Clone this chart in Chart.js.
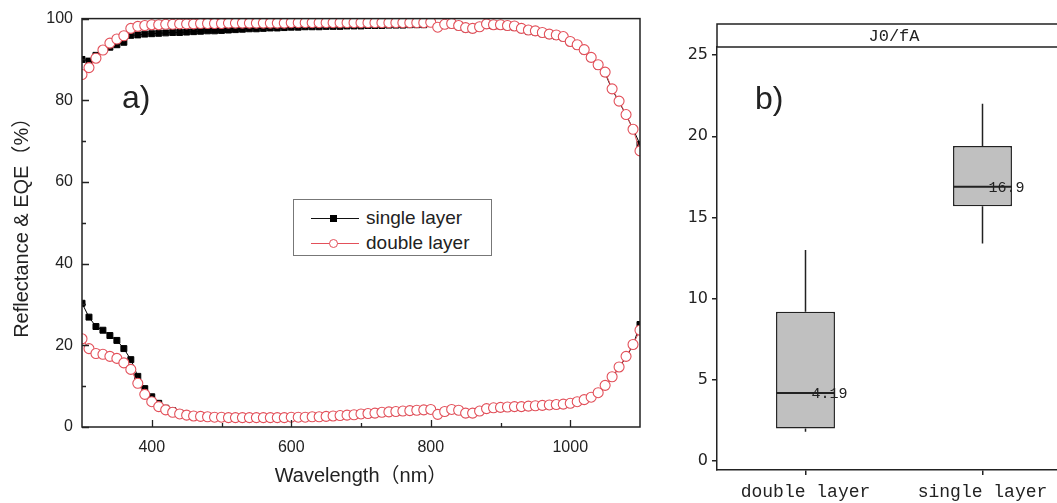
<!DOCTYPE html>
<html lang="en">

<head>
  <meta charset="UTF-8" />
  <title>Reflectance & EQE / J0</title>
  <script src="https://cdn.jsdelivr.net/npm/chart.js"></script>
  <style>
    body {
      margin: 0;
      width: 1057px;
      height: 503px;
      overflow: hidden;
      position: relative;
      background: #fff;
      font-family: 'Liberation Sans', Arial, sans-serif;
      color: #222;
    }

    .box {
      position: absolute;
      top: 0;
      height: 503px;
    }

    .tag {
      position: absolute;
      font-size: 32px;
      line-height: 38px;
    }

    #legend {
      position: absolute;
      left: 293px;
      top: 199px;
      width: 197px;
      height: 55px;
      border: 1px solid #777;
      background: #fff;
    }

    #legend .ln {
      position: absolute;
      left: 17px;
      width: 48px;
      height: 1px;
    }

    #legend .mk {
      position: absolute;
      box-sizing: border-box;
    }

    #legend .tx {
      position: absolute;
      left: 72px;
      font-size: 19px;
      line-height: 22px;
    }
  </style>
</head>

<body>
  <div class="box" style="left:0;width:680px"><canvas id="chartA"></canvas></div>
  <div class="box" style="left:680px;width:400px"><canvas id="chartB"></canvas></div>

  <div class="tag" style="left:122px;top:78px">a)</div>
  <div class="tag" style="left:755px;top:79px">b)</div>

  <div id="legend">
    <div class="ln" style="top:18px;background:#111"></div>
    <div class="mk" style="left:36px;top:15px;width:7px;height:7px;background:#000"></div>
    <div class="tx" style="top:7px">single layer</div>
    <div class="ln" style="top:43px;background:#e3505a"></div>
    <div class="mk" style="left:35px;top:39px;width:9px;height:9px;border:1px solid #e3505a;border-radius:50%;background:#fff"></div>
    <div class="tx" style="top:32px">double layer</div>
  </div>

  <script>
    // ---- a) reflectance & EQE ----
    const wavelength = [
      300, 310, 320, 330, 340, 350, 360, 370, 380, 390,
      400, 410, 420, 430, 440, 450, 460, 470, 480, 490,
      500, 510, 520, 530, 540, 550, 560, 570, 580, 590,
      600, 610, 620, 630, 640, 650, 660, 670, 680, 690,
      700, 710, 720, 730, 740, 750, 760, 770, 780, 790,
      800, 810, 820, 830, 840, 850, 860, 870, 880, 890,
      900, 910, 920, 930, 940, 950, 960, 970, 980, 990,
      1000, 1010, 1020, 1030, 1040, 1050, 1060, 1070, 1080, 1090,
      1100
    ]

    const singleUpper = [
      90.0, 89.6, 91.0, 92.4, 93.0, 93.6, 94.2, 95.9, 96.0, 96.2,
      96.3, 96.4, 96.5, 96.6, 96.6, 96.7, 96.8, 96.9, 97.0, 97.0,
      97.1, 97.2, 97.3, 97.4, 97.5, 97.5, 97.6, 97.7, 97.7, 97.8,
      97.9, 97.9, 98.0, 98.0, 98.0, 98.1, 98.1, 98.1, 98.2, 98.2,
      98.2, 98.3, 98.3, 98.3, 98.4, 98.4, 98.4, 98.5, 98.5, 98.5,
      99.4, 98.0, 98.4, 98.5, 98.0, 97.5, 97.3, 97.8, 98.3, 98.2,
      98.2, 98.0, 97.9, 97.3, 96.9, 96.7, 96.3, 95.9, 95.7, 95.3,
      94.1, 93.3, 92.1, 90.2, 88.4, 86.6, 82.6, 79.6, 76.4, 73.0,
      69.2
    ]

    const singleLower = [
      30.3, 26.9, 24.6, 23.7, 22.4, 21.2, 19.2, 16.5, 12.4, 9.4,
      7.4, 5.8, 4.6, 4.0, 3.4, 3.0, 2.8, 2.6, 2.5, 2.4,
      2.3, 2.2, 2.2, 2.2, 2.2, 2.2, 2.2, 2.2, 2.2, 2.2,
      2.3, 2.3, 2.3, 2.4, 2.4, 2.5, 2.6, 2.7, 2.8, 2.9,
      3.0, 3.1, 3.2, 3.4, 3.5, 3.6, 3.7, 3.8, 3.9, 4.0,
      4.1, 3.0, 3.6, 4.1, 3.9, 3.2, 3.2, 3.7, 4.3, 4.5,
      4.6, 4.7, 4.8, 4.8, 4.9, 5.0, 5.1, 5.2, 5.3, 5.4,
      5.6, 6.0, 6.5, 7.1, 8.2, 10.0, 12.1, 14.5, 17.1, 20.0,
      25.1
    ]

    const doubleUpper = [
      86.3, 88.0, 90.3, 92.3, 94.0, 95.0, 95.8, 97.6, 98.1, 98.3,
      98.5, 98.5, 98.6, 98.6, 98.7, 98.7, 98.7, 98.8, 98.8, 98.8,
      98.8, 98.9, 98.9, 98.9, 98.9, 98.9, 98.9, 98.9, 98.9, 98.9,
      99.0, 99.0, 99.0, 99.0, 99.0, 99.0, 99.0, 99.0, 99.0, 99.0,
      99.0, 99.0, 99.0, 99.0, 99.0, 99.0, 99.0, 99.0, 99.0, 99.0,
      99.1, 97.9, 98.6, 98.8, 98.3, 97.8, 97.6, 98.0, 98.7, 98.5,
      98.5, 98.3, 98.2, 97.6, 97.2, 97.0, 96.6, 96.2, 96.0, 95.6,
      94.4, 93.6, 92.4, 90.5, 88.7, 86.9, 82.8, 79.8, 76.5, 72.9,
      67.6
    ]

    const doubleLower = [
      21.6, 19.2, 18.0, 17.8, 17.3, 16.8, 15.7, 14.1, 10.7, 8.0,
      6.2, 5.0, 4.2, 3.6, 3.2, 2.9, 2.7, 2.6, 2.5, 2.4,
      2.4, 2.3, 2.3, 2.3, 2.3, 2.3, 2.3, 2.3, 2.3, 2.3,
      2.4, 2.4, 2.4, 2.5, 2.5, 2.6, 2.7, 2.8, 2.9, 3.0,
      3.2, 3.3, 3.4, 3.6, 3.7, 3.8, 3.9, 4.0, 4.1, 4.2,
      4.3, 3.1, 3.8, 4.3, 4.1, 3.4, 3.4, 3.9, 4.5, 4.7,
      4.8, 4.9, 5.0, 5.0, 5.1, 5.2, 5.3, 5.4, 5.5, 5.6,
      5.8, 6.2, 6.7, 7.3, 8.4, 10.2, 12.3, 14.7, 17.3, 20.2,
      23.7
    ]

    const xTicksA = [400, 600, 800, 1000]
    const xMinorA = [500, 700, 900]
    const yTicksA = [0, 20, 40, 60, 80, 100]
    const yMinorA = [10, 30, 50, 70, 90]

    // ---- b) J0 box plot ----
    const categories = ['double layer', 'single layer']
    const boxMin = [1.8, 13.4]
    const boxQ1 = [2.0, 15.7]
    const boxMedian = [4.19, 16.9]
    const boxQ3 = [9.2, 19.4]
    const boxMax = [13.0, 22.0]
    const medianLabels = ['4.19', '16.9']
    const yTicksB = [0, 5, 10, 15, 20, 25]

    const RED = '#e3505a'
    const INK = '#222'

    function pts(ys) {
      return wavelength.map((w, i) => ({ x: w, y: ys[i] }))
    }

    // frame + inward tick marks
    const frameTicks = {
      id: 'frameTicks',
      afterDatasetsDraw(chart) {
        const { ctx, chartArea: a, scales: { x, y } } = chart
        ctx.save()
        ctx.strokeStyle = INK
        ctx.lineWidth = 1.5
        ctx.strokeRect(a.left, a.top, a.right - a.left, a.bottom - a.top)
        ctx.lineWidth = 1.3
        ctx.beginPath()
        xTicksA.concat(xMinorA).forEach(v => {
          const px = Math.round(x.getPixelForValue(v)) + 0.5
          const len = xTicksA.includes(v) ? 7 : 4
          ctx.moveTo(px, a.bottom)
          ctx.lineTo(px, a.bottom - len)
        })
        yTicksA.concat(yMinorA).forEach(v => {
          const py = Math.round(y.getPixelForValue(v)) + 0.5
          const len = yTicksA.includes(v) ? 7 : 4
          ctx.moveTo(a.left, py)
          ctx.lineTo(a.left + len, py)
        })
        ctx.stroke()
        ctx.restore()
      }
    }

    new Chart(document.getElementById('chartA'), {
      type: 'line',
      data: {
        datasets: [
          {
            label: 'double layer', data: pts(doubleUpper),
            borderColor: RED, borderWidth: 1, backgroundColor: '#fff',
            pointStyle: 'circle', pointRadius: 5, pointBorderWidth: 1.1, pointBorderColor: RED
          },
          {
            label: 'double layer', data: pts(doubleLower),
            borderColor: RED, borderWidth: 1, backgroundColor: '#fff',
            pointStyle: 'circle', pointRadius: 5, pointBorderWidth: 1.1, pointBorderColor: RED
          },
          {
            label: 'single layer', data: pts(singleUpper),
            borderColor: '#000', borderWidth: 1, backgroundColor: '#000',
            pointStyle: 'rect', pointRadius: 4.2
          },
          {
            label: 'single layer', data: pts(singleLower),
            borderColor: '#000', borderWidth: 1, backgroundColor: '#000',
            pointStyle: 'rect', pointRadius: 4.2
          }
        ]
      },
      plugins: [frameTicks],
      options: {
        responsive: true,
        maintainAspectRatio: false,
        animation: false,
        layout: { padding: { top: 17, right: 40, left: 0, bottom: 0 } },
        plugins: { legend: { display: false }, tooltip: { enabled: false } },
        scales: {
          x: {
            type: 'linear', min: 300, max: 1100,
            afterBuildTicks: s => { s.ticks = xTicksA.map(v => ({ value: v })) },
            afterFit: s => { s.height = 76 },
            grid: { display: false, drawTicks: false },
            border: { display: false },
            ticks: {
              color: INK, padding: 11, font: { family: 'Liberation Sans', size: 16 },
              callback: v => String(v)
            },
            title: {
              display: true, text: 'Wavelength（nm）', color: INK,
              font: { family: "'Liberation Sans', 'Noto Sans CJK SC'", size: 20 },
              padding: { top: 0, bottom: 15 }
            }
          },
          y: {
            min: 0, max: 100,
            afterBuildTicks: s => { s.ticks = yTicksA.map(v => ({ value: v })) },
            afterFit: s => { s.width = 82 },
            grid: { display: false, drawTicks: false },
            border: { display: false },
            ticks: { color: INK, padding: 9, font: { family: 'Liberation Sans', size: 16 } },
            title: {
              display: true, text: 'Reflectance & EQE（%）', color: INK,
              font: { family: "'Liberation Sans', 'Noto Sans CJK SC'", size: 20 },
              padding: { top: 10, bottom: 0 }
            }
          }
        }
      }
    })

    // whiskers, median line, median label and header band
    const boxExtras = {
      id: 'boxExtras',
      afterDatasetsDraw(chart) {
        const { ctx, chartArea: a, scales: { y } } = chart
        const meta = chart.getDatasetMeta(0)
        ctx.save()
        ctx.strokeStyle = INK
        meta.data.forEach((bar, i) => {
          const half = bar.width / 2
          ctx.lineWidth = 1.5
          ctx.beginPath()
          ctx.moveTo(bar.x, y.getPixelForValue(boxQ3[i]))
          ctx.lineTo(bar.x, y.getPixelForValue(boxMax[i]))
          ctx.moveTo(bar.x, y.getPixelForValue(boxQ1[i]))
          ctx.lineTo(bar.x, y.getPixelForValue(boxMin[i]))
          ctx.stroke()
          const my = y.getPixelForValue(boxMedian[i])
          ctx.lineWidth = 2
          ctx.beginPath()
          ctx.moveTo(bar.x - half, my)
          ctx.lineTo(bar.x + half, my)
          ctx.stroke()
          ctx.fillStyle = INK
          ctx.font = "15px 'Liberation Mono'"
          ctx.textBaseline = 'middle'
          ctx.textAlign = 'left'
          ctx.fillText(medianLabels[i], bar.x + 6, my + 1)
        })
        // header band
        ctx.lineWidth = 1.5
        ctx.beginPath()
        ctx.moveTo(a.left, a.top)
        ctx.lineTo(a.left, 24)
        ctx.lineTo(chart.width, 24)
        ctx.moveTo(a.left, a.top)
        ctx.lineTo(chart.width, a.top)
        ctx.stroke()
        ctx.fillStyle = INK
        ctx.font = "17px 'Liberation Mono'"
        ctx.textAlign = 'center'
        ctx.textBaseline = 'middle'
        ctx.fillText('J0/fA', (a.left + a.right) / 2, 36)
        ctx.restore()
      }
    }

    new Chart(document.getElementById('chartB'), {
      type: 'bar',
      data: {
        labels: categories,
        datasets: [{
          label: 'J0/fA',
          data: boxQ1.map((v, i) => [v, boxQ3[i]]),
          backgroundColor: '#c0c0c0',
          borderColor: INK,
          borderWidth: 1.5,
          borderSkipped: false,
          barPercentage: 0.333,
          categoryPercentage: 1
        }]
      },
      plugins: [boxExtras],
      options: {
        responsive: true,
        maintainAspectRatio: false,
        animation: false,
        layout: { padding: { top: 47, right: 9, left: 0, bottom: 0 } },
        plugins: { legend: { display: false }, tooltip: { enabled: false } },
        scales: {
          x: {
            afterFit: s => { s.height = 33 },
            grid: { display: true, drawOnChartArea: false, offset: false, tickLength: 5, color: INK, lineWidth: 1.5 },
            border: { display: true, color: INK, width: 1.5 },
            ticks: { color: INK, padding: 6, font: { family: 'Liberation Mono', size: 18 } }
          },
          y: {
            min: -0.55, max: 25.5,
            afterBuildTicks: s => { s.ticks = yTicksB.map(v => ({ value: v })) },
            afterFit: s => { s.width = 37 },
            grid: { display: true, drawOnChartArea: false, tickLength: 5, color: INK, lineWidth: 1.5 },
            border: { display: true, color: INK, width: 1.5 },
            ticks: { color: INK, padding: 4, font: { family: 'DejaVu Sans', size: 16 } }
          }
        }
      }
    })
  </script>
</body>

</html>
